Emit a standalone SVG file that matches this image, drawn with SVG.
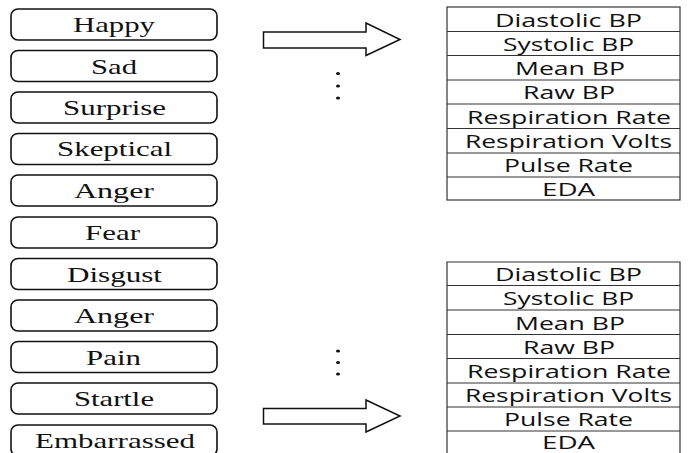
<svg xmlns="http://www.w3.org/2000/svg" width="700" height="453" viewBox="0 0 700 453">
<style>
.box{fill:#fff;stroke:#111;stroke-width:1.6}
.lt{font-family:'Liberation Serif','DejaVu Serif','Noto Serif',Times,serif;font-size:21px;fill:#111;text-anchor:middle}
.tb{fill:#fff;stroke:#333;stroke-width:1.2}
.rt{font-family:'Open Sans','Liberation Sans',sans-serif;font-size:18px;fill:#111;text-anchor:middle}
.arrow{fill:#fff;stroke:#111;stroke-width:1.5;stroke-linejoin:miter}
.dot{fill:#111}
</style>
<rect width="700" height="453" fill="#fff"/>
<g id="emotions">
<g id="e-happy"><rect class="box" x="11" y="9" width="206" height="31" rx="7"/><text class="lt" x="114" y="32" textLength="82" lengthAdjust="spacingAndGlyphs">Happy</text></g>
<g id="e-sad"><rect class="box" x="11" y="50.5" width="206" height="31" rx="7"/><text class="lt" x="114" y="73.5" textLength="46" lengthAdjust="spacingAndGlyphs">Sad</text></g>
<g id="e-surprise"><rect class="box" x="11" y="92" width="206" height="31" rx="7"/><text class="lt" x="114.5" y="115" textLength="103" lengthAdjust="spacingAndGlyphs">Surprise</text></g>
<g id="e-skeptical"><rect class="box" x="11" y="133.5" width="206" height="31" rx="7"/><text class="lt" x="114.5" y="156" textLength="115" lengthAdjust="spacingAndGlyphs">Skeptical</text></g>
<g id="e-anger1"><rect class="box" x="11" y="175" width="206" height="31" rx="7"/><text class="lt" x="114" y="198" textLength="80" lengthAdjust="spacingAndGlyphs">Anger</text></g>
<g id="e-fear"><rect class="box" x="11" y="217" width="206" height="31" rx="7"/><text class="lt" x="112.5" y="240" textLength="55" lengthAdjust="spacingAndGlyphs">Fear</text></g>
<g id="e-disgust"><rect class="box" x="11" y="258.5" width="206" height="31" rx="7"/><text class="lt" x="114.5" y="281.5" textLength="95" lengthAdjust="spacingAndGlyphs">Disgust</text></g>
<g id="e-anger2"><rect class="box" x="11" y="300" width="206" height="31" rx="7"/><text class="lt" x="114" y="323" textLength="80" lengthAdjust="spacingAndGlyphs">Anger</text></g>
<g id="e-pain"><rect class="box" x="11" y="341.5" width="206" height="31" rx="7"/><text class="lt" x="113.5" y="364.5" textLength="55" lengthAdjust="spacingAndGlyphs">Pain</text></g>
<g id="e-startle"><rect class="box" x="11" y="383" width="206" height="31" rx="7"/><text class="lt" x="114" y="406" textLength="80" lengthAdjust="spacingAndGlyphs">Startle</text></g>
<g id="e-embarrassed"><rect class="box" x="11" y="425" width="206" height="31" rx="7"/><text class="lt" x="115" y="447.5" textLength="160" lengthAdjust="spacingAndGlyphs">Embarrassed</text></g>
</g>
<g id="table-top">
<rect class="tb" x="447" y="7" width="233" height="193"/>
<path d="M447 31.5H680M447 55.5H680M447 80H680M447 104H680M447 128.5H680M447 153H680M447 177H680" stroke="#333" stroke-width="1"/>
<text class="rt" x="568.5" y="26.5" textLength="147" lengthAdjust="spacingAndGlyphs">Diastolic BP</text>
<text class="rt" x="568.5" y="50.5" textLength="131" lengthAdjust="spacingAndGlyphs">Systolic BP</text>
<text class="rt" x="570" y="75" textLength="110" lengthAdjust="spacingAndGlyphs">Mean BP</text>
<text class="rt" x="569" y="99" textLength="92" lengthAdjust="spacingAndGlyphs">Raw BP</text>
<text class="rt" x="569" y="123.5" textLength="204" lengthAdjust="spacingAndGlyphs">Respiration Rate</text>
<text class="rt" x="568.5" y="148" textLength="207" lengthAdjust="spacingAndGlyphs">Respiration Volts</text>
<text class="rt" x="568.5" y="172" textLength="129" lengthAdjust="spacingAndGlyphs">Pulse Rate</text>
<text class="rt" x="568.5" y="196" textLength="53" lengthAdjust="spacingAndGlyphs">EDA</text>
</g>
<g id="table-bottom">
<path class="tb" d="M447 454V262H680V454"/>
<path d="M447 285.5H680M447 310H680M447 334.5H680M447 358.5H680M447 383H680M447 407H680M447 431H680" stroke="#333" stroke-width="1"/>
<text class="rt" x="568.5" y="280.5" textLength="147" lengthAdjust="spacingAndGlyphs">Diastolic BP</text>
<text class="rt" x="568.5" y="305" textLength="131" lengthAdjust="spacingAndGlyphs">Systolic BP</text>
<text class="rt" x="570" y="329.5" textLength="110" lengthAdjust="spacingAndGlyphs">Mean BP</text>
<text class="rt" x="569" y="353.5" textLength="92" lengthAdjust="spacingAndGlyphs">Raw BP</text>
<text class="rt" x="569" y="378" textLength="204" lengthAdjust="spacingAndGlyphs">Respiration Rate</text>
<text class="rt" x="568.5" y="402" textLength="207" lengthAdjust="spacingAndGlyphs">Respiration Volts</text>
<text class="rt" x="568.5" y="426" textLength="129" lengthAdjust="spacingAndGlyphs">Pulse Rate</text>
<text class="rt" x="568.5" y="449" textLength="53" lengthAdjust="spacingAndGlyphs">EDA</text>
</g>
<g id="connectors">
<path class="arrow" d="M263.5 32H366V23L400 39.5L366 55.5V48H263.5Z"/>
<path class="arrow" d="M263.5 408.5H366V400L400 416L366 432V424H263.5Z"/>
<ellipse class="dot" cx="338" cy="73.5" rx="2" ry="1.5"/>
<ellipse class="dot" cx="338" cy="86" rx="2" ry="1.5"/>
<ellipse class="dot" cx="338" cy="98" rx="2" ry="1.5"/>
<ellipse class="dot" cx="338" cy="351" rx="2" ry="1.5"/>
<ellipse class="dot" cx="338" cy="362.5" rx="2" ry="1.5"/>
<ellipse class="dot" cx="338" cy="374" rx="2" ry="1.5"/>
</g>
</svg>
